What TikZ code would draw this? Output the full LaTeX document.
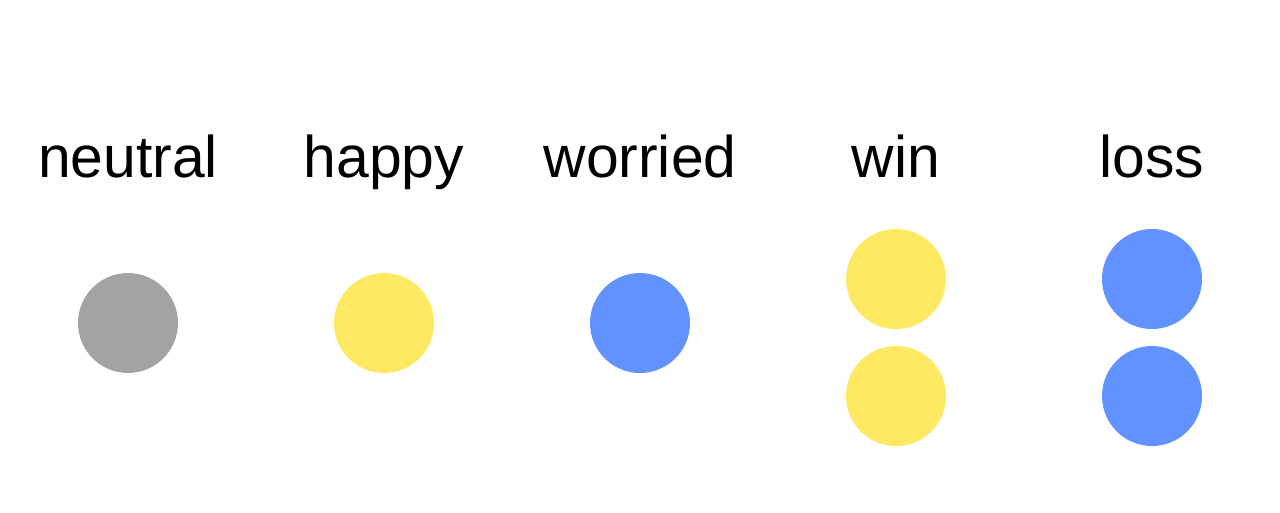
\documentclass[tikz,border=0pt]{standalone}
\usepackage{fontspec}
\setmainfont{Liberation Sans}
\usepackage{xcolor}
\usepackage{tikz}
\usetikzlibrary{positioning}

\definecolor{moodgray}{HTML}{A3A3A3}
\definecolor{moodyellow}{HTML}{FFE862}
\definecolor{moodblue}{HTML}{6192FF}

\begin{document}
\begin{tikzpicture}[x=0.02cm, y=-0.02cm,
    moodtext/.style={anchor=base, font=\fontsize{33.5}{40}\selectfont},
    dot/.style={circle, minimum size=2cm, inner sep=0pt, draw=none}]
    % Khung ảnh theo kích thước 1280x512
    \useasboundingbox (0,0) rectangle (1280,512);

    % Tên các trạng thái
    \node[moodtext] (neutral) at (128,177) {neutral};
    \node[moodtext] (happy)   at (384,177) {happy};
    \node[moodtext] (worried) at (640,177) {worried};
    \node[moodtext] (win)     at (896,177) {win};
    \node[moodtext] (loss)    at (1152,177) {loss};

    % Các chấm màu
    \node[dot, fill=moodgray]   (neutral dot) at (128,323) {};
    \node[dot, fill=moodyellow] (happy dot)   at (384,323) {};
    \node[dot, fill=moodblue]   (worried dot) at (640,323) {};
    \node[dot, fill=moodyellow] (win dot a)   at (896,279) {};
    \node[dot, fill=moodyellow] (win dot b)   at (896,396) {};
    \node[dot, fill=moodblue]   (loss dot a)  at (1152,279) {};
    \node[dot, fill=moodblue]   (loss dot b)  at (1152,396) {};
\end{tikzpicture}
\end{document}
